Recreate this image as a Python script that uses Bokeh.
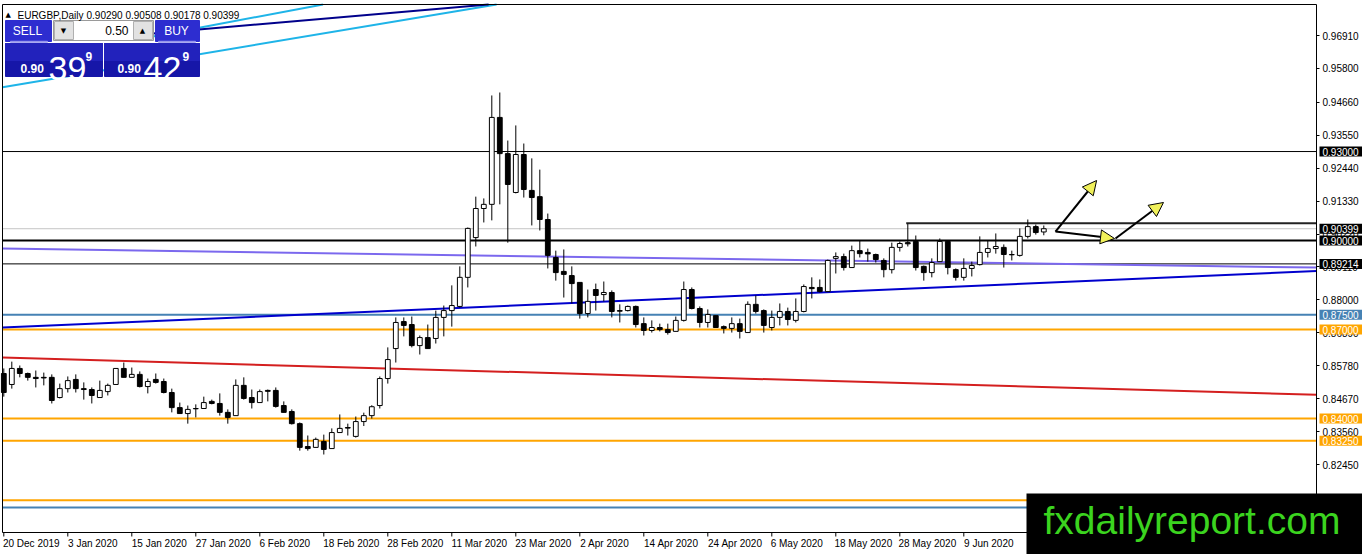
import numpy as np
from bokeh.plotting import figure
from bokeh.models import (Range1d, FixedTicker, PrintfTickFormatter, Label, BoxAnnotation,
                          Arrow, NormalHead, ColumnDataSource, LinearAxis)
from bokeh.embed import file_html
from bokeh.resources import INLINE

# ---------------- data ----------------
symbol_title = "EURGBP,Daily"
ohlc_title = "0.90290 0.90508 0.90178 0.90399"

date_labels = ["20 Dec 2019", "3 Jan 2020", "15 Jan 2020", "27 Jan 2020", "6 Feb 2020",
               "18 Feb 2020", "28 Feb 2020", "11 Mar 2020", "23 Mar 2020", "2 Apr 2020",
               "14 Apr 2020", "24 Apr 2020", "6 May 2020", "18 May 2020", "28 May 2020",
               "9 Jun 2020"]
date_bars = [0, 8, 16, 24, 32, 40, 48, 56, 64, 72, 80, 88, 96, 104, 112, 120]

opens = [
    0.8552, 0.8515, 0.8569, 0.8552, 0.8539, 0.8539, 0.8539, 0.8471, 0.8501, 0.8532,
    0.8501, 0.8498, 0.8471, 0.8491, 0.8515, 0.8569, 0.8539, 0.8549, 0.8508, 0.8532,
    0.8525, 0.8488, 0.8437, 0.8417, 0.8434, 0.8434, 0.8458, 0.8451, 0.8421, 0.8410,
    0.8512, 0.8471, 0.8454, 0.8495, 0.8495, 0.8444, 0.8424, 0.8383, 0.8306, 0.8303,
    0.8323, 0.8299, 0.8353, 0.8370, 0.8340, 0.8390, 0.8410, 0.8444, 0.8535, 0.8636,
    0.8727, 0.8717, 0.8646, 0.8673, 0.8670, 0.8741, 0.8764, 0.8778, 0.8876, 0.9010,
    0.9108, 0.9122, 0.9415, 0.9293, 0.9162, 0.9290, 0.9169, 0.9148, 0.9071, 0.8943,
    0.8896, 0.8882, 0.8859, 0.8754, 0.8835, 0.8818, 0.8825, 0.8764, 0.8764, 0.8778,
    0.8720, 0.8697, 0.8707, 0.8700, 0.8694, 0.8731, 0.8835, 0.8771, 0.8724, 0.8747,
    0.8710, 0.8704, 0.8720, 0.8690, 0.8785, 0.8764, 0.8707, 0.8741, 0.8761, 0.8731,
    0.8761, 0.8842, 0.8842, 0.8828, 0.8940, 0.8946, 0.8909, 0.8966, 0.8960, 0.8953,
    0.8933, 0.8902, 0.8977, 0.8993, 0.8997, 0.8913, 0.8892, 0.8929, 0.8997, 0.8902,
    0.8876, 0.8906, 0.8919, 0.8960, 0.8973, 0.8977, 0.8953, 0.8950, 0.9014, 0.9047,
    0.90290]
highs = [
    0.8569, 0.8592, 0.8579, 0.8555, 0.8562, 0.8555, 0.8549, 0.8518, 0.8542, 0.8549,
    0.8522, 0.8505, 0.8528, 0.8518, 0.8569, 0.8589, 0.8572, 0.8559, 0.8535, 0.8552,
    0.8535, 0.8501, 0.8454, 0.8444, 0.8448, 0.8474, 0.8464, 0.8485, 0.8431, 0.8532,
    0.8539, 0.8498, 0.8498, 0.8498, 0.8505, 0.8458, 0.8431, 0.8387, 0.8343, 0.8336,
    0.8346, 0.8367, 0.8414, 0.8383, 0.8407, 0.8420, 0.8445, 0.8542, 0.8640, 0.8741,
    0.8741, 0.8744, 0.8680, 0.8717, 0.8764, 0.8781, 0.8849, 0.8913, 0.9044, 0.9148,
    0.9142, 0.9489, 0.9499, 0.9337, 0.9388, 0.9327, 0.9277, 0.9239, 0.9091, 0.8966,
    0.8970, 0.8913, 0.8859, 0.8835, 0.8855, 0.8862, 0.8832, 0.8785, 0.8781, 0.8781,
    0.8741, 0.8731, 0.8720, 0.8720, 0.8744, 0.8862, 0.8842, 0.8778, 0.8768, 0.8747,
    0.8714, 0.8741, 0.8737, 0.8795, 0.8815, 0.8768, 0.8764, 0.8788, 0.8774, 0.8805,
    0.8852, 0.8876, 0.8869, 0.8936, 0.8960, 0.8956, 0.8983, 0.9000, 0.8973, 0.8956,
    0.8940, 0.8993, 0.8997, 0.9057, 0.9017, 0.8916, 0.8940, 0.9007, 0.9000, 0.8906,
    0.8940, 0.8929, 0.9014, 0.9000, 0.9024, 0.8987, 0.8966, 0.9041, 0.9071, 0.9054,
    0.90508]
lows = [
    0.8474, 0.8501, 0.8539, 0.8528, 0.8505, 0.8512, 0.8451, 0.8468, 0.8488, 0.8488,
    0.8464, 0.8451, 0.8471, 0.8478, 0.8515, 0.8539, 0.8539, 0.8505, 0.8485, 0.8518,
    0.8485, 0.8421, 0.8417, 0.8383, 0.8404, 0.8434, 0.8448, 0.8410, 0.8383, 0.8410,
    0.8464, 0.8434, 0.8454, 0.8458, 0.8437, 0.8421, 0.8380, 0.8292, 0.8292, 0.8303,
    0.8279, 0.8299, 0.8353, 0.8343, 0.8336, 0.8375, 0.8400, 0.8434, 0.8518, 0.8589,
    0.8677, 0.8640, 0.8616, 0.8636, 0.8653, 0.8677, 0.8710, 0.8774, 0.8842, 0.8980,
    0.9061, 0.9068, 0.9122, 0.8993, 0.9159, 0.9145, 0.9051, 0.9034, 0.8906, 0.8865,
    0.8808, 0.8788, 0.8737, 0.8741, 0.8764, 0.8795, 0.8741, 0.8724, 0.8761, 0.8707,
    0.8680, 0.8690, 0.8694, 0.8683, 0.8694, 0.8727, 0.8768, 0.8707, 0.8707, 0.8707,
    0.8687, 0.8690, 0.8670, 0.8690, 0.8754, 0.8690, 0.8697, 0.8714, 0.8714, 0.8724,
    0.8758, 0.8805, 0.8825, 0.8828, 0.8889, 0.8899, 0.8909, 0.8943, 0.8929, 0.8926,
    0.8876, 0.8889, 0.8963, 0.8980, 0.8899, 0.8865, 0.8876, 0.8929, 0.8886, 0.8865,
    0.8865, 0.8879, 0.8916, 0.8943, 0.8956, 0.8909, 0.8933, 0.8946, 0.9007, 0.9020,
    0.90178]
closes = [
    0.8488, 0.8569, 0.8552, 0.8539, 0.8535, 0.8537, 0.8461, 0.8501, 0.8528, 0.8501,
    0.8498, 0.8478, 0.8495, 0.8512, 0.8569, 0.8539, 0.8549, 0.8508, 0.8525, 0.8522,
    0.8488, 0.8437, 0.8417, 0.8431, 0.8433, 0.8454, 0.8451, 0.8421, 0.8404, 0.8512,
    0.8468, 0.8454, 0.8491, 0.8492, 0.8441, 0.8421, 0.8383, 0.8303, 0.8299, 0.8330,
    0.8296, 0.8353, 0.8367, 0.8368, 0.8390, 0.8410, 0.8440, 0.8535, 0.8599, 0.8724,
    0.8714, 0.8646, 0.8673, 0.8636, 0.8741, 0.8764, 0.8781, 0.8876, 0.9041, 0.9108,
    0.9122, 0.9415, 0.9293, 0.9189, 0.9290, 0.9172, 0.9145, 0.9071, 0.8950, 0.8892,
    0.8886, 0.8855, 0.8754, 0.8795, 0.8815, 0.8825, 0.8761, 0.8762, 0.8778, 0.8717,
    0.8697, 0.8707, 0.8700, 0.8690, 0.8731, 0.8835, 0.8771, 0.8724, 0.8751, 0.8707,
    0.8704, 0.8720, 0.8694, 0.8785, 0.8761, 0.8714, 0.8741, 0.8761, 0.8734, 0.8761,
    0.8845, 0.8838, 0.8828, 0.8933, 0.8946, 0.8909, 0.8966, 0.8956, 0.8955, 0.8936,
    0.8902, 0.8977, 0.8990, 0.8989, 0.8909, 0.8892, 0.8926, 0.8997, 0.8909, 0.8876,
    0.8906, 0.8916, 0.8960, 0.8973, 0.8980, 0.8953, 0.8952, 0.9014, 0.9047, 0.9027,
    0.90399]

price_ticks = [0.96910, 0.95800, 0.94660, 0.93550, 0.92440, 0.91330, 0.90220, 0.89110,
               0.88000, 0.86890, 0.85780, 0.84670, 0.83560, 0.82450, 0.81340]

level_prices = [0.93000, 0.90399, 0.90000, 0.89214, 0.87500, 0.87000, 0.84000, 0.83250, 0.81250, 0.81000]
level_colors = ["black", "#c4c4c4", "black", "black", "#4682B4", "#FFA500", "#FFA500", "#FFA500", "#FFA500", "#4682B4"]
level_widths = [1, 1, 2, 1, 2, 2, 2, 2, 2, 2]

tag_prices = [0.93000, 0.90399, 0.90000, 0.89214, 0.87500, 0.87000, 0.84000, 0.83250]
tag_colors = ["black", "black", "black", "black", "#4682B4", "#FFA500", "#FFA500", "#FFA500"]

resistance_bar = 112.8
resistance_price = 0.9058

trend_bars = [[-0.16, 164.09], [-0.16, 164.09], [-0.16, 164.09], [-0.16, 61.6], [18.3, 39.9], [18.3, 60.6]]
trend_prices = [[0.8973, 0.8909], [0.8707, 0.8897], [0.8606, 0.8480], [0.9517, 0.97955],
                [0.9686, 0.97955], [0.9697, 0.97955]]
trend_colors = ["#7B68EE", "#0000CD", "#D41F1F", "#1EB4E8", "#1EB4E8", "#00008B"]

arrow_x0 = [131.46, 131.46, 138.96]
arrow_y0 = [0.90305, 0.90305, 0.90069]
arrow_x1 = [136.6, 138.84, 144.96]
arrow_y1 = [0.92024, 0.90069, 0.91283]

sell_big, sell_small = "39", "9"
buy_big, buy_small = "42", "9"
lot_size = "0.50"
watermark = "fxdailyreport.com"


# ---- conversion of reference-picture layout positions to chart coordinates ----
def bx(xr):
    return (xr - 3.3) / 8.0


def py(yr):
    return 0.9809 - 0.000337 * yr


X_LEFT, X_EDGE = bx(2), bx(1316)       # chart border left / right (price scale line)
Y_TOP, Y_BOTTOM = py(4), py(532)       # chart border top / bottom (time scale line)

p = figure(width=1362, height=554, output_backend="svg", toolbar_location=None,
           x_range=Range1d(bx(0), bx(1362)), y_range=Range1d(py(554), py(0)),
           y_axis_location="right",
           min_border_left=0, min_border_right=0, min_border_top=0, min_border_bottom=0,
           background_fill_color="white", border_fill_color="white",
           outline_line_color=None)
p.xgrid.visible = False
p.ygrid.visible = False

FONT = "Liberation Sans"

# price scale (right)
ya = p.yaxis[0]
ya.fixed_location = X_EDGE
ya.bounds = (Y_BOTTOM, Y_TOP)
ya.ticker = FixedTicker(ticks=price_ticks)
ya.formatter = PrintfTickFormatter(format="%.5f")
ya.major_label_text_font = FONT
ya.major_label_text_font_size = "10px"
ya.major_label_text_color = "black"
ya.major_tick_out = 3
ya.major_tick_in = 0
ya.minor_tick_line_color = None
ya.major_label_standoff = 3
ya.axis_line_color = "black"
ya.major_tick_line_color = "black"

# time scale (bottom): label centres sit half a label width right of the bar they name
label_pos = [b + len(t) * 2.5 / 8.0 for b, t in zip(date_bars, date_labels)]
xa = p.xaxis[0]
xa.fixed_location = Y_BOTTOM
xa.bounds = (X_LEFT, X_EDGE)
xa.ticker = FixedTicker(ticks=label_pos)
xa.major_label_overrides = {pos: t for pos, t in zip(label_pos, date_labels)}
xa.major_label_text_font = FONT
xa.major_label_text_font_size = "10px"
xa.major_label_text_color = "black"
xa.major_tick_line_color = None
xa.minor_tick_line_color = None
xa.major_tick_out = 0
xa.major_tick_in = 0
xa.major_label_standoff = 5
xa.axis_line_color = "black"

# chart border top and left
for side, loc, bnds in (("above", Y_TOP, (X_LEFT, X_EDGE)), ("left", X_LEFT, (Y_BOTTOM, Y_TOP))):
    ax = LinearAxis(fixed_location=loc, bounds=bnds, ticker=FixedTicker(ticks=[]),
                    axis_line_color="black", major_tick_line_color=None, minor_tick_line_color=None)
    p.add_layout(ax, side)

# time-scale tick marks at the labelled bars
tick_len = 0.000337 * 4
p.segment(x0=date_bars, y0=[Y_BOTTOM] * len(date_bars), x1=date_bars,
          y1=[Y_BOTTOM - tick_len] * len(date_bars), line_color="black", line_width=1)

# horizontal levels
p.segment(x0=[X_LEFT] * len(level_prices), y0=level_prices, x1=[X_EDGE] * len(level_prices),
          y1=level_prices, line_color=level_colors, line_width=level_widths)

# trend lines
for xs, ys, col in zip(trend_bars, trend_prices, trend_colors):
    p.line(xs, ys, line_color=col, line_width=2)

# resistance line
p.segment(x0=[resistance_bar], y0=[resistance_price], x1=[X_EDGE], y1=[resistance_price],
          line_color="#222222", line_width=2)

# candles
bars = np.arange(len(opens))
o = np.array(opens); h = np.array(highs); l = np.array(lows); c = np.array(closes)
up = c >= o
src_up = ColumnDataSource(dict(x=bars[up], top=np.maximum(o, c)[up], bottom=np.minimum(o, c)[up]))
src_dn = ColumnDataSource(dict(x=bars[~up], top=np.maximum(o, c)[~up], bottom=np.minimum(o, c)[~up]))
p.segment(x0=bars, y0=l, x1=bars, y1=h, line_color="black", line_width=1)
p.vbar(x="x", top="top", bottom="bottom", width=0.6, source=src_up, fill_color="white", line_color="black", line_width=1)
p.vbar(x="x", top="top", bottom="bottom", width=0.6, source=src_dn, fill_color="black", line_color="black", line_width=1)

# arrows
asrc = ColumnDataSource(dict(x0=arrow_x0, y0=arrow_y0, x1=arrow_x1, y1=arrow_y1))
p.add_layout(Arrow(end=NormalHead(size=14, fill_color="#F0F05A", line_color="black", line_width=1),
                   x_start="x0", y_start="y0", x_end="x1", y_end="y1", source=asrc,
                   line_color="black", line_width=2))

# price tags on the right scale
for pr, col in zip(tag_prices, tag_colors):
    p.add_layout(Label(x=bx(1319), y=pr, text=f"{pr:.5f}", text_color="white", text_font=FONT,
                       text_font_size="10px", text_baseline="middle", text_align="left",
                       background_fill_color=col, padding=dict(left=3, right=12, top=1, bottom=1)))


# ---- one-click trading panel ----
def box(x0, y0, x1, y1, fill, line=None):
    p.add_layout(BoxAnnotation(left=bx(x0), right=bx(x1), top=py(y0), bottom=py(y1),
                               fill_color=fill, fill_alpha=1.0, line_color=line if line else fill,
                               line_alpha=1.0, line_width=1))


box(5, 20, 51, 41, "#2d2dd0")
box(5, 43, 102, 76, "#1616a8")
box(5, 43, 102, 60, "#2222bc")
box(53, 20, 153, 40, "white", "#9a9a9a")
box(54, 21, 73, 39, "#e2e2e2", "#b0b0b0")
box(133, 21, 152, 39, "#e2e2e2", "#b0b0b0")
box(155, 20, 199, 41, "#2d2dd0")
box(104, 43, 199, 76, "#1616a8")
box(104, 43, 199, 60, "#2222bc")
box(10, 40.8, 47, 41.8, "#9a9aee")
box(158, 40.8, 195, 41.8, "#9a9aee")


def lab(x, y, t, size, color="white", align="left", baseline="alphabetic", bold=False, font=FONT):
    p.add_layout(Label(x=bx(x), y=py(y), text=t, text_font=font, text_font_size=size,
                       text_color=color, text_align=align, text_baseline=baseline,
                       text_font_style="bold" if bold else "normal"))


lab(5, 14, "\u25b2", "7px", color="black", font="DejaVu Sans")
lab(17, 15, symbol_title, "10px", color="black")
lab(86, 15, ohlc_title, "10px", color="black")
lab(27, 30.5, "SELL", "12px", align="center", baseline="middle")
lab(176, 30.5, "BUY", "12px", align="center", baseline="middle")
lab(128, 30, lot_size, "12px", color="black", align="right", baseline="middle")
lab(63, 30, "\u25bc", "7px", color="black", align="center", baseline="middle", font="DejaVu Sans")
lab(142, 30, "\u25b2", "7px", color="black", align="center", baseline="middle", font="DejaVu Sans")
lab(20, 68, "0.90", "12px", bold=True)
lab(48, 68, sell_big, "34px")
lab(85, 56, sell_small, "12px", bold=True)
lab(117, 68, "0.90", "12px", bold=True)
lab(143, 68, buy_big, "34px")
lab(182, 56, buy_small, "12px", bold=True)

# watermark
p.add_layout(Label(x=bx(1026), y=py(532), text=watermark, text_font=FONT, text_font_size="39px",
                   text_color="#3bd41f", text_baseline="alphabetic", text_align="left",
                   background_fill_color="black", padding=dict(left=17, right=40, top=5, bottom=30)))

open("out.html", "w").write(file_html(p, INLINE))
